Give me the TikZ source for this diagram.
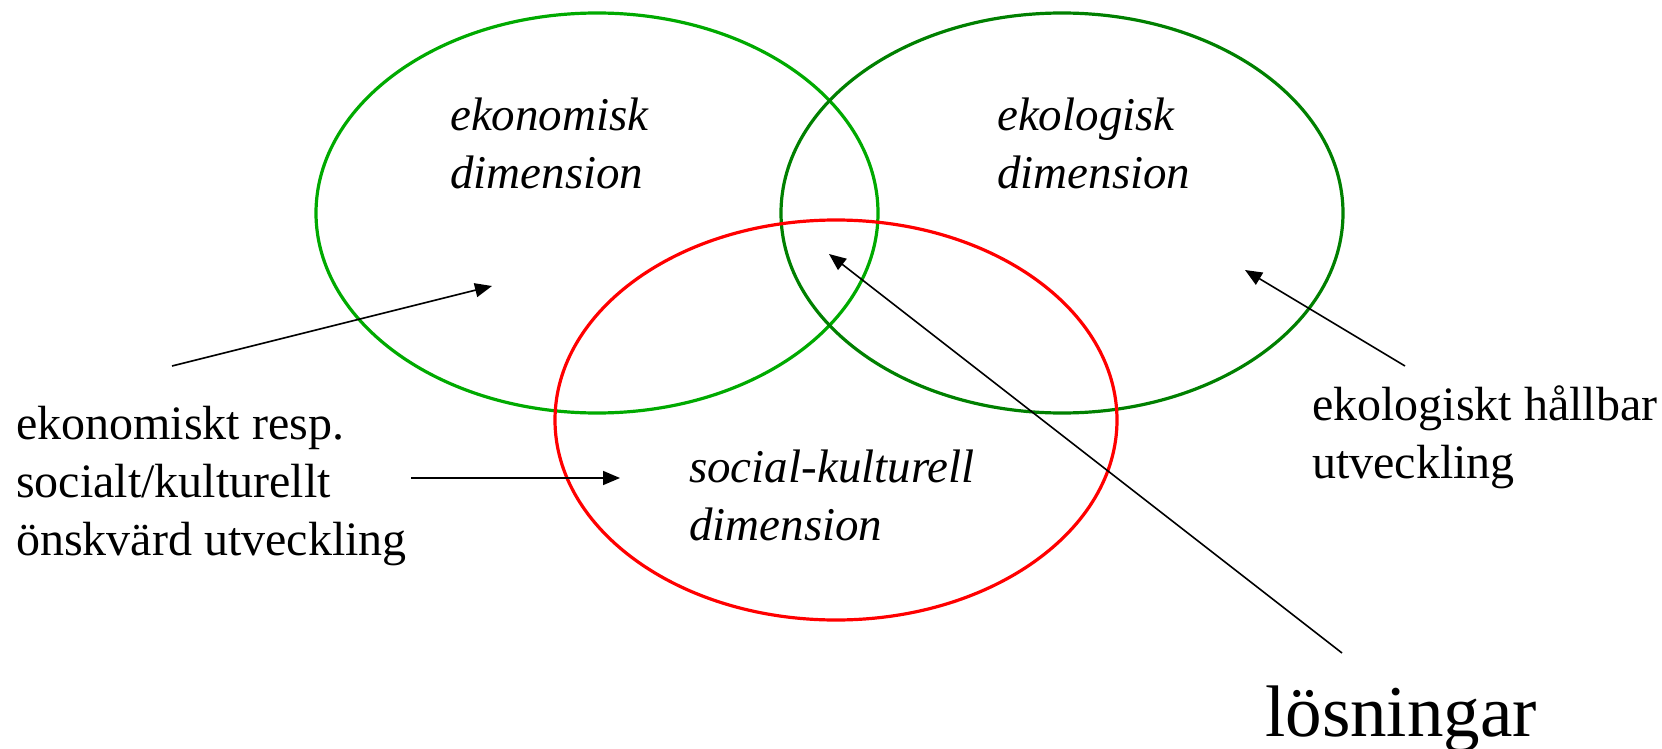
\documentclass[tikz,border=0pt]{standalone}
\usepackage{fontspec}
\setmainfont{Liberation Serif}
\usetikzlibrary{arrows.meta}
\definecolor{ecogreen}{RGB}{0,170,0}
\definecolor{ekogreen}{RGB}{0,128,0}
\definecolor{socred}{RGB}{255,0,0}
\begin{document}
\begin{tikzpicture}[x=1pt,y=-1pt,
  ring/.style={line width=3.2pt},
  arr/.style={line width=1.6pt,-{Triangle[length=17pt,width=14pt]}},
  dimtxt/.style={inner sep=0pt,anchor=base west,align=left,font=\fontsize{47}{58}\selectfont\itshape},
  lbl/.style={inner sep=0pt,anchor=base west,align=left,font=\fontsize{48}{58}\selectfont}]
\useasboundingbox (0,0) rectangle (1662,749);
% circles
\draw[ring,ecogreen] (597,213) ellipse [x radius=281,y radius=200];
\draw[ring,ekogreen] (1062,213) ellipse [x radius=281,y radius=200];
\draw[ring,socred] (836,420) ellipse [x radius=281,y radius=200];
% dimension labels (base anchor = baseline of last line)
\node[dimtxt] (eko) at (450,188) {ekonomisk\\dimension};
\node[dimtxt] (ekol) at (997,188) {ekologisk\\dimension};
\node[dimtxt] (soc) at (689,540) {social-kulturell\\dimension};
% outer labels
\node[lbl] (lek) at (16,555) {ekonomiskt resp.\\socialt/kulturellt\\önskvärd utveckling};
\node[lbl] (lekol) at (1312,478) {ekologiskt hållbar\\utveckling};
\node[lbl,font=\fontsize{73}{88}\selectfont] (los) at (1265,736) {lösningar};
% arrows
\coordinate (a1s) at (172,366);
\coordinate (a1e) at (492,286);
\coordinate (a2s) at (411,478);
\coordinate (a2e) at (620,478);
\coordinate (a3s) at (1342,653);
\coordinate (a3e) at (829,254);
\coordinate (a4s) at (1405,366);
\coordinate (a4e) at (1245,270);
\draw[arr] (a1s) -- (a1e);
\draw[arr] (a2s) -- (a2e);
\draw[arr] (a3s) -- (a3e);
\draw[arr] (a4s) -- (a4e);
\end{tikzpicture}
\end{document}
